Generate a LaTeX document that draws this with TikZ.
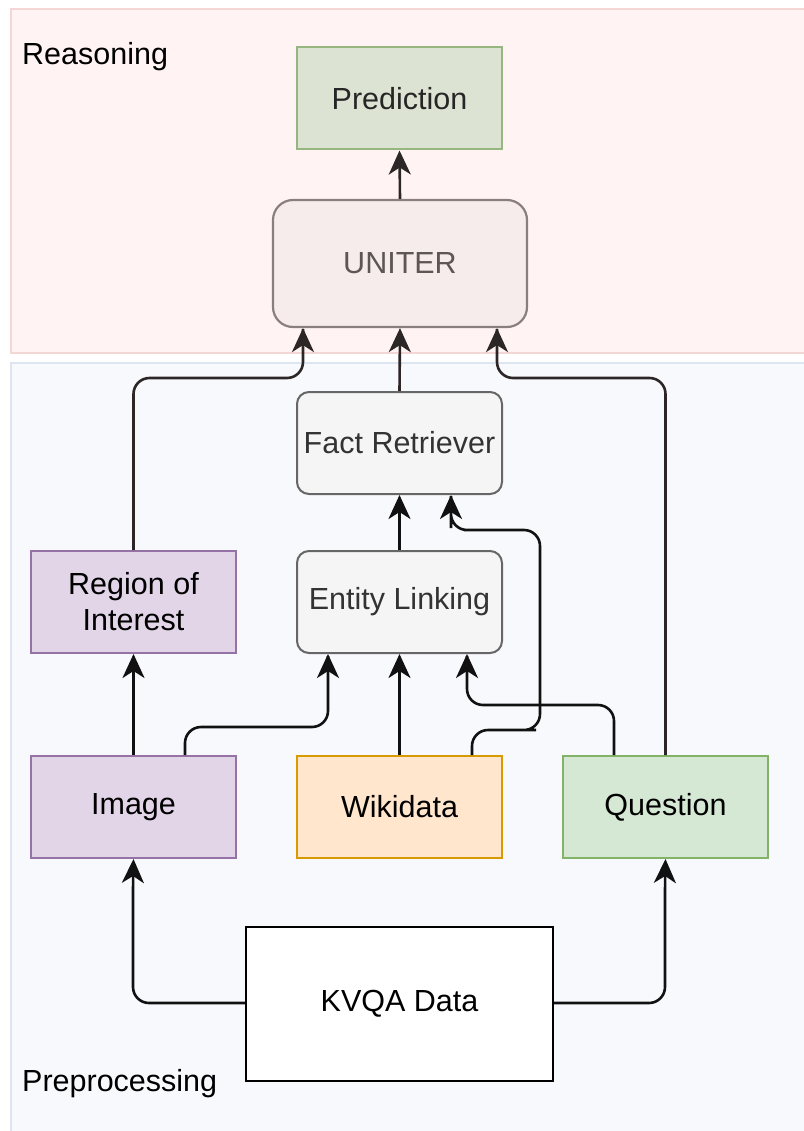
\documentclass[tikz,border=0pt]{standalone}
\usepackage{fontspec}
\setmainfont{Liberation Sans}
\usetikzlibrary{arrows.meta}
\definecolor{rfill}{HTML}{FFF4F3}
\definecolor{rdraw}{HTML}{F4D6D4}
\definecolor{pfill}{HTML}{F8F9FD}
\definecolor{pdraw}{HTML}{DCE5F0}
\definecolor{predfill}{HTML}{DDE3D3}
\definecolor{preddraw}{HTML}{97B67F}
\definecolor{ufill}{HTML}{F5ECEB}
\definecolor{udraw}{HTML}{8A7F7E}
\definecolor{utext}{HTML}{5E5555}
\definecolor{gfill}{HTML}{F5F5F5}
\definecolor{gdraw}{HTML}{666666}
\definecolor{gtext}{HTML}{333333}
\definecolor{vfill}{HTML}{E1D5E7}
\definecolor{vdraw}{HTML}{9673A6}
\definecolor{ofill}{HTML}{FFE6CC}
\definecolor{odraw}{HTML}{D79B00}
\definecolor{qfill}{HTML}{D5E8D4}
\definecolor{qdraw}{HTML}{82B366}
\definecolor{arr}{HTML}{111111}
\definecolor{uarr}{HTML}{2D2626}
\tikzset{
  txt/.style={font=\fontsize{30.5}{36}\selectfont, align=center},
  box/.style={txt, draw, line width=2pt, inner sep=0pt, minimum width=205pt, minimum height=102pt},
  rbox/.style={box, rounded corners=12pt},
  conn/.style={draw=arr, line width=2.6pt, -{Stealth[length=24pt 0,width=22pt 0,inset=7pt 0]}},
  rc/.style={rounded corners=16pt},
  lbl/.style={font=\fontsize{30.5}{36}\selectfont, anchor=base west, inner sep=0pt}
}
\begin{document}
\begin{tikzpicture}[x=1pt,y=-1pt]
\useasboundingbox (0,0) rectangle (803,1131);
% containers
\path[fill=rfill, draw=rdraw, line width=2pt] (11,9) rectangle (810,353);
\path[fill=pfill, draw=pdraw, line width=2pt] (11,363) rectangle (810,1140);
\node[lbl] (lreas) at (22,65) {Reasoning};
\node[lbl] (lprep) at (22,1091) {Preprocessing};
% nodes
\node[box, fill=predfill, draw=preddraw, text=black!85] (pred) at (399.5,98.5) {Prediction};
\node[box, rounded corners=20pt, fill=ufill, draw=udraw, text=utext, line width=2.2pt, minimum width=254pt, minimum height=127pt] (uniter) at (400,263.5) {UNITER};
\node[rbox, fill=gfill, draw=gdraw, text=gtext] (fact) at (399.5,443) {Fact Retriever};
\node[rbox, fill=gfill, draw=gdraw, text=gtext] (ent) at (399.5,602) {Entity Linking};
\node[box, fill=vfill, draw=vdraw] (roi) at (133.5,602) {Region of\\Interest};
\node[box, fill=vfill, draw=vdraw] (img) at (133.5,807) {Image};
\node[box, fill=ofill, draw=odraw] (wiki) at (399.5,807) {Wikidata};
\node[box, fill=qfill, draw=qdraw] (ques) at (665.5,807) {Question};
\node[txt, draw=black, fill=white, line width=2.4pt, minimum width=307pt, minimum height=154pt, inner sep=0pt] (kvqa) at (399.5,1004) {KVQA Data};
% connectors
\draw[conn, draw=uarr] (uniter.north) -- (pred.south);
\draw[conn, draw=uarr] (fact.north) -- (uniter.south);
\draw[conn, draw=uarr] (roi.north) [rc] |- (220,378) -| (303,345) [sharp corners] -- (uniter.south -| 303,0);
\draw[conn, draw=uarr] (ques.north) [rc] |- (580,378) -| (497,345) [sharp corners] -- (uniter.south -| 497,0);
\draw[conn] (ent.north) -- (fact.south);
\draw[conn] (wiki.north -| 472,0) [rc] |- (520,730) -| (540,610) |- (480,530) -| (451,512) [sharp corners] -- (fact.south -| 451,0);
\draw[conn] (ques.north -| 614,0) [rc] |- (540,705) -| (467,672) [sharp corners] -- (ent.south -| 467,0);
\draw[conn] (wiki.north) -- (ent.south);
\draw[conn] (img.north -| 185,0) [rc] |- (260,727) -| (328,672) [sharp corners] -- (ent.south -| 328,0);
\draw[conn] (img.north) -- (roi.south);
\draw[conn] (kvqa.west |- 0,1003) [rc] -| (133,880) [sharp corners] -- (img.south);
\draw[conn] (kvqa.east |- 0,1003) [rc] -| (665,880) [sharp corners] -- (ques.south);
\end{tikzpicture}
\end{document}
